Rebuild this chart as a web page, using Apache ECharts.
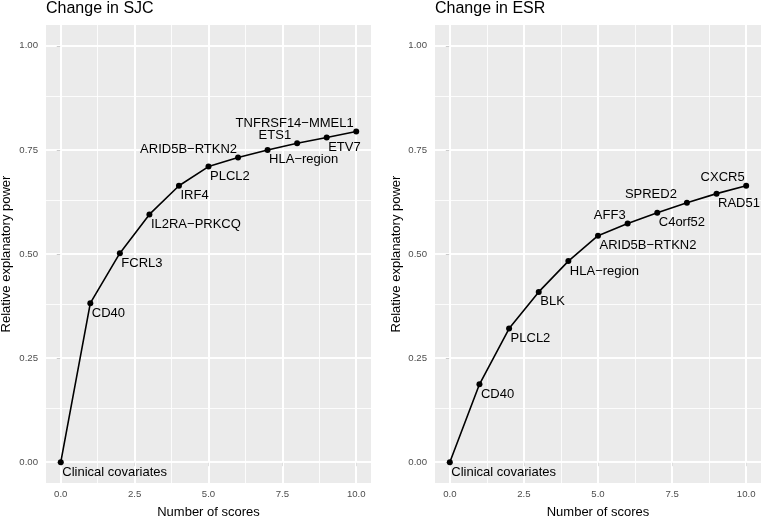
<!DOCTYPE html>
<html>
<head>
<meta charset="utf-8">
<script src="https://cdn.jsdelivr.net/npm/echarts@6/dist/echarts.min.js"></script>
<style>
html,body{margin:0;padding:0;background:#fff;}
#chart{width:761px;height:517px;}
</style>
</head>
<body>
<div id="chart"></div>
<script>
// ---- data ----
const scoreCounts = [0, 1, 2, 3, 4, 5, 6, 7, 8, 9, 10];
const sjcLabels = ['Clinical covariates', 'CD40', 'FCRL3', 'IL2RA\u2212PRKCQ', 'IRF4', 'PLCL2',
  'ARID5B\u2212RTKN2', 'HLA\u2212region', 'ETS1', 'ETV7', 'TNFRSF14\u2212MMEL1'];
const sjcValues = [0, 0.382, 0.502, 0.595, 0.664, 0.710, 0.732, 0.750, 0.766, 0.780, 0.794];
const esrLabels = ['Clinical covariates', 'CD40', 'PLCL2', 'BLK', 'HLA\u2212region', 'ARID5B\u2212RTKN2',
  'AFF3', 'C4orf52', 'SPRED2', 'RAD51', 'CXCR5'];
const esrValues = [0, 0.187, 0.321, 0.409, 0.483, 0.544, 0.573, 0.599, 0.623, 0.645, 0.664];
const xTicks = [0, 2.5, 5, 7.5, 10];
const xMinor = [1.25, 3.75, 6.25, 8.75];
const yTicks = [0, 0.25, 0.5, 0.75, 1];
const yMinor = [0.125, 0.375, 0.625, 0.875];

// ---- label placement (style): 'br' = below-right, number = above-left with x shift ----
const sjcPlace = ['br', 'br', 'br', 'br', 'br', 'br', -1, 'br', -6, 'br', -2.5];
const esrPlace = ['br', 'br', 'br', 'br', 'br', 'br', -2, 'br', -10, 'br', -1.5];

const FONT = "'Liberation Sans', Arial, Helvetica, sans-serif";

function labelFor(p) {
  if (p === 'br') {
    return { show: true, position: 'inside', align: 'left', verticalAlign: 'top', offset: [1.5, 3.5] };
  }
  return { show: true, position: 'inside', align: 'right', verticalAlign: 'bottom', offset: [p, -1.5] };
}

function seriesData(values, names, place) {
  return scoreCounts.map((x, i) => ({ name: names[i], value: [x, values[i]], label: labelFor(place[i]) }));
}

function mainX(gi) {
  return {
    type: 'value', gridIndex: gi, min: -0.5, max: 10.5,
    axisLine: { show: false },
    axisTick: { show: true, customValues: xTicks, length: 4, lineStyle: { color: '#333333', width: 1 } },
    axisLabel: { customValues: xTicks, formatter: v => v.toFixed(1), color: '#4D4D4D', fontSize: 9.6, margin: 6, fontFamily: FONT },
    splitLine: { show: true, lineStyle: { color: '#FFFFFF', width: 1.7 } },
    name: 'Number of scores', nameLocation: 'middle', nameGap: 23,
    nameTextStyle: { color: '#000', fontSize: 13, fontFamily: FONT }
  };
}
function mainY(gi, gap) {
  return {
    type: 'value', gridIndex: gi, min: -0.05, max: 1.05,
    axisLine: { show: false },
    axisTick: { show: true, customValues: yTicks, length: 4, lineStyle: { color: '#333333', width: 1 } },
    axisLabel: { customValues: yTicks, formatter: v => v.toFixed(2), color: '#4D4D4D', fontSize: 9.6, margin: 8, fontFamily: FONT },
    splitLine: { show: true, lineStyle: { color: '#FFFFFF', width: 1.7 } },
    name: 'Relative explanatory power', nameLocation: 'middle', nameGap: gap,
    nameTextStyle: { color: '#000', fontSize: 13, fontFamily: FONT }
  };
}

// white panel grid lines (major + minor) placed on the axes' scales
function gridLineSeries(idx) {
  const major = xTicks.map(v => ({ xAxis: v, lineStyle: { width: 1.7 } }))
    .concat(yTicks.map(v => ({ yAxis: v, lineStyle: { width: 1.7 } })));
  const minor = xMinor.map(v => ({ xAxis: v, lineStyle: { width: 0.85 } }))
    .concat(yMinor.map(v => ({ yAxis: v, lineStyle: { width: 0.85 } })));
  return {
    type: 'line', xAxisIndex: idx, yAxisIndex: idx, data: [], z: 1, silent: true,
    markLine: {
      silent: true, symbol: 'none', animation: false,
      label: { show: false },
      lineStyle: { color: '#FFFFFF', type: 'solid', width: 1 },
      emphasis: { disabled: true },
      data: major.concat(minor)
    }
  };
}

function lineSeries(xi, yi, values, names, place) {
  return {
    type: 'line', xAxisIndex: xi, yAxisIndex: yi,
    data: seriesData(values, names, place),
    symbol: 'circle', symbolSize: 6,
    itemStyle: { color: '#000' },
    lineStyle: { color: '#000', width: 1.6 },
    label: { show: true, formatter: '{b}', color: '#000', fontSize: 13, fontFamily: FONT },
    emphasis: { disabled: true },
    z: 5
  };
}

const chart = echarts.init(document.getElementById('chart'), null, { renderer: 'canvas' });
chart.setOption({
  animation: false,
  backgroundColor: '#FFFFFF',
  textStyle: { fontFamily: FONT },
  title: [
    { text: 'Change in SJC', left: 46, top: 1, padding: 0, textStyle: { fontSize: 16, fontWeight: 'normal', color: '#000', fontFamily: FONT } },
    { text: 'Change in ESR', left: 435, top: 1, padding: 0, textStyle: { fontSize: 16, fontWeight: 'normal', color: '#000', fontFamily: FONT } }
  ],
  grid: [
    { left: 46, top: 25, width: 325, height: 458, show: true, backgroundColor: '#EBEBEB', borderWidth: 0, containLabel: false, outerBoundsMode: 'none' },
    { left: 435, top: 25, width: 326, height: 458, show: true, backgroundColor: '#EBEBEB', borderWidth: 0, containLabel: false, outerBoundsMode: 'none' }
  ],
  xAxis: [mainX(0), mainX(1)],
  yAxis: [mainY(0, 33.5), mainY(1, 32.5)],
  series: [
    gridLineSeries(0),
    gridLineSeries(1),
    lineSeries(0, 0, sjcValues, sjcLabels, sjcPlace),
    lineSeries(1, 1, esrValues, esrLabels, esrPlace)
  ]
});
</script>
</body>
</html>
